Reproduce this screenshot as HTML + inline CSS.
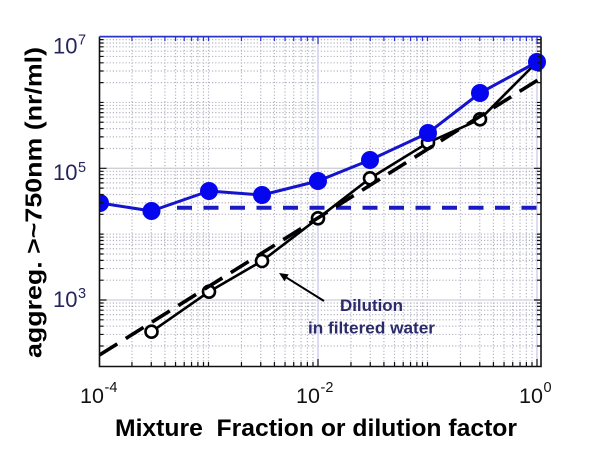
<!DOCTYPE html>
<html><head><meta charset="utf-8"><style>
html,body{margin:0;padding:0;background:#fff;}
svg{display:block;}
text{font-family:"Liberation Sans",Arial,sans-serif;}
</style></head><body>
<svg width="600" height="475" viewBox="0 0 600 475" xmlns="http://www.w3.org/2000/svg">
<defs>
<clipPath id="pc"><rect x="99.5" y="20" width="500" height="346"/></clipPath>
<clipPath id="pa"><rect x="99.5" y="36.6" width="441.5" height="329.4"/></clipPath>
</defs>
<rect width="600" height="475" fill="#fff"/>
<!-- minor dotted grid -->
<g stroke="#b4b4c4" stroke-width="1.2" stroke-dasharray="1.2 2" fill="none">
<path d="M131.96 37V366M151.25 37V366M164.93 37V366M175.54 37V366M184.21 37V366M191.54 37V366M197.89 37V366M203.49 37V366M208.5 37V366M241.46 37V366M260.75 37V366M274.43 37V366M285.04 37V366M293.71 37V366M301.04 37V366M307.39 37V366M312.99 37V366M350.96 37V366M370.25 37V366M383.93 37V366M394.54 37V366M403.21 37V366M410.54 37V366M416.89 37V366M422.49 37V366M427.5 37V366M460.46 37V366M479.75 37V366M493.43 37V366M504.04 37V366M512.71 37V366M520.04 37V366M526.39 37V366M531.99 37V366"/>
<path d="M100 346.03H541M100 334.43H541M100 326.2H541M100 319.82H541M100 314.61H541M100 310.2H541M100 306.38H541M100 303H541M100 280.18H541M100 268.58H541M100 260.35H541M100 253.97H541M100 248.76H541M100 244.35H541M100 240.53H541M100 237.15H541M100 234.15H541M100 214.33H541M100 202.73H541M100 194.5H541M100 188.12H541M100 182.91H541M100 178.5H541M100 174.68H541M100 171.3H541M100 148.48H541M100 136.88H541M100 128.65H541M100 122.27H541M100 117.06H541M100 112.65H541M100 108.83H541M100 105.45H541M100 102.45H541M100 82.63H541M100 71.03H541M100 62.8H541M100 56.42H541M100 51.21H541M100 46.8H541M100 42.98H541M100 39.6H541"/>
</g>
<!-- major grid -->
<path d="M100 300H541M100 168.3H541" stroke="#cfcfd6" stroke-width="1.3"/>
<path d="M318 37V366M537 37V366" stroke="#c8c8ee" stroke-width="1.3"/>

<!-- blue dashed horizontal -->
<path d="M177 207.7H541" stroke="#1a1ac4" stroke-width="4" stroke-dasharray="15 11.5"/>

<!-- black solid dilution line + circles -->
<g clip-path="url(#pc)">
<polyline points="151.5,331.7 209,291.7 262,261 318,218.3 370,178.3 428,142.7 480,119.3 537,62" fill="none" stroke="#000" stroke-width="2.6" stroke-linejoin="round"/>
<g fill="#fff" stroke="#000" stroke-width="2.6">
<circle cx="151.5" cy="331.7" r="6"/>
<circle cx="209" cy="291.7" r="6"/>
<circle cx="262" cy="261" r="6"/>
<circle cx="318" cy="218.3" r="6"/>
<circle cx="370" cy="178.3" r="6"/>
<circle cx="428" cy="142.7" r="6"/>
<circle cx="480" cy="119.3" r="6"/>
</g>
</g>
<!-- black dashed trend -->
<g clip-path="url(#pa)">
<path d="M99.5 355L541 78" stroke="#000" stroke-width="3.6" stroke-dasharray="21 10" fill="none"/>
</g>

<!-- blue series -->
<g clip-path="url(#pc)">
<polyline points="100,203 151.5,211 209,191 262,195 318,181 370,160 428,133 480,93 537,62" fill="none" stroke="#1414cc" stroke-width="3" stroke-linejoin="round"/>
<g fill="#0606ee">
<circle cx="100" cy="203" r="9"/>
<circle cx="151.5" cy="211" r="9"/>
<circle cx="209" cy="191" r="9"/>
<circle cx="262" cy="195" r="9"/>
<circle cx="318" cy="181" r="9"/>
<circle cx="370" cy="160" r="9"/>
<circle cx="428" cy="133" r="9"/>
<circle cx="480" cy="93" r="9"/>
<circle cx="537" cy="62" r="9"/>
</g>
</g>

<!-- axes spines -->
<path d="M99.5 36.6V366.5H541V36.6" stroke="#111" stroke-width="1.6" fill="none"/>
<path d="M99.5 36.6H541" stroke="#2a34c8" stroke-width="1.8" fill="none"/>
<!-- ticks bottom & top -->
<path stroke="#111" stroke-width="1.2" fill="none" d="M131.96 366v-4M151.25 366v-4M164.93 366v-4M175.54 366v-4M184.21 366v-4M191.54 366v-4M197.89 366v-4M203.49 366v-4M208.5 366v-4M241.46 366v-4M260.75 366v-4M274.43 366v-4M285.04 366v-4M293.71 366v-4M301.04 366v-4M307.39 366v-4M312.99 366v-4M350.96 366v-4M370.25 366v-4M383.93 366v-4M394.54 366v-4M403.21 366v-4M410.54 366v-4M416.89 366v-4M422.49 366v-4M427.5 366v-4M460.46 366v-4M479.75 366v-4M493.43 366v-4M504.04 366v-4M512.71 366v-4M520.04 366v-4M526.39 366v-4M531.99 366v-4M318 366v-7M537 366v-7"/>
<path stroke="#2a34c8" stroke-width="1.2" fill="none" d="M131.96 37v4M151.25 37v4M164.93 37v4M175.54 37v4M184.21 37v4M191.54 37v4M197.89 37v4M203.49 37v4M208.5 37v4M241.46 37v4M260.75 37v4M274.43 37v4M285.04 37v4M293.71 37v4M301.04 37v4M307.39 37v4M312.99 37v4M350.96 37v4M370.25 37v4M383.93 37v4M394.54 37v4M403.21 37v4M410.54 37v4M416.89 37v4M422.49 37v4M427.5 37v4M460.46 37v4M479.75 37v4M493.43 37v4M504.04 37v4M512.71 37v4M520.04 37v4M526.39 37v4M531.99 37v4M318 37v7M537 37v7"/>
<!-- ticks left & right -->
<path stroke="#111" stroke-width="1.2" fill="none" d="M99.5 346.03h4M99.5 334.43h4M99.5 326.2h4M99.5 319.82h4M99.5 314.61h4M99.5 310.2h4M99.5 306.38h4M99.5 303h4M99.5 280.18h4M99.5 268.58h4M99.5 260.35h4M99.5 253.97h4M99.5 248.76h4M99.5 244.35h4M99.5 240.53h4M99.5 237.15h4M99.5 234.15h4M99.5 214.33h4M99.5 202.73h4M99.5 194.5h4M99.5 188.12h4M99.5 182.91h4M99.5 178.5h4M99.5 174.68h4M99.5 171.3h4M99.5 148.48h4M99.5 136.88h4M99.5 128.65h4M99.5 122.27h4M99.5 117.06h4M99.5 112.65h4M99.5 108.83h4M99.5 105.45h4M99.5 102.45h4M99.5 82.63h4M99.5 71.03h4M99.5 62.8h4M99.5 56.42h4M99.5 51.21h4M99.5 46.8h4M99.5 42.98h4M99.5 39.6h4M99.5 300h7M99.5 168.3h7
M541 346.03h-4M541 334.43h-4M541 326.2h-4M541 319.82h-4M541 314.61h-4M541 310.2h-4M541 306.38h-4M541 303h-4M541 280.18h-4M541 268.58h-4M541 260.35h-4M541 253.97h-4M541 248.76h-4M541 244.35h-4M541 240.53h-4M541 237.15h-4M541 234.15h-4M541 214.33h-4M541 202.73h-4M541 194.5h-4M541 188.12h-4M541 182.91h-4M541 178.5h-4M541 174.68h-4M541 171.3h-4M541 148.48h-4M541 136.88h-4M541 128.65h-4M541 122.27h-4M541 117.06h-4M541 112.65h-4M541 108.83h-4M541 105.45h-4M541 102.45h-4M541 82.63h-4M541 71.03h-4M541 62.8h-4M541 56.42h-4M541 51.21h-4M541 46.8h-4M541 42.98h-4M541 39.6h-4M541 300h-7M541 168.3h-7"/>

<!-- y tick labels -->
<g fill="#25255c">
<text x="53" y="53.5" font-size="22">10</text><text x="78" y="44.5" font-size="14.5">7</text>
<text x="53" y="180" font-size="22">10</text><text x="78" y="172" font-size="14.5">5</text>
<text x="53" y="307" font-size="22">10</text><text x="78" y="298" font-size="14.5">3</text>
</g>
<!-- x tick labels -->
<g fill="#111">
<text x="80" y="403" font-size="21.5">10</text><text x="104.5" y="392" font-size="14.5">-4</text>
<text x="296" y="403" font-size="21.5">10</text><text x="320.5" y="392" font-size="14.5">-2</text>
<text x="519" y="403" font-size="21.5">10</text><text x="543.5" y="392" font-size="14.5">0</text>
</g>

<!-- axis labels -->
<text x="115" y="436" font-size="24.5" font-weight="bold" fill="#000" textLength="402" lengthAdjust="spacingAndGlyphs" style="white-space:pre">Mixture&#160; Fraction or dilution factor</text>
<text transform="translate(41.5,358) rotate(-90)" x="0" y="0" font-size="23" font-weight="bold" fill="#000" textLength="311" lengthAdjust="spacingAndGlyphs">aggreg. &gt;~750nm (nr/ml)</text>

<!-- annotation -->
<line x1="324" y1="301" x2="285" y2="276.7" stroke="#000" stroke-width="2"/>
<polygon points="279,273 288.7,274.4 284.5,281.2" fill="#000"/>
<text x="340" y="311" font-size="16.3" font-weight="bold" fill="#2b2b6b" textLength="63" lengthAdjust="spacingAndGlyphs">Dilution</text>
<text x="308" y="333.5" font-size="16.3" font-weight="bold" fill="#2b2b6b" textLength="127" lengthAdjust="spacingAndGlyphs">in filtered water</text>
</svg>
</body></html>
